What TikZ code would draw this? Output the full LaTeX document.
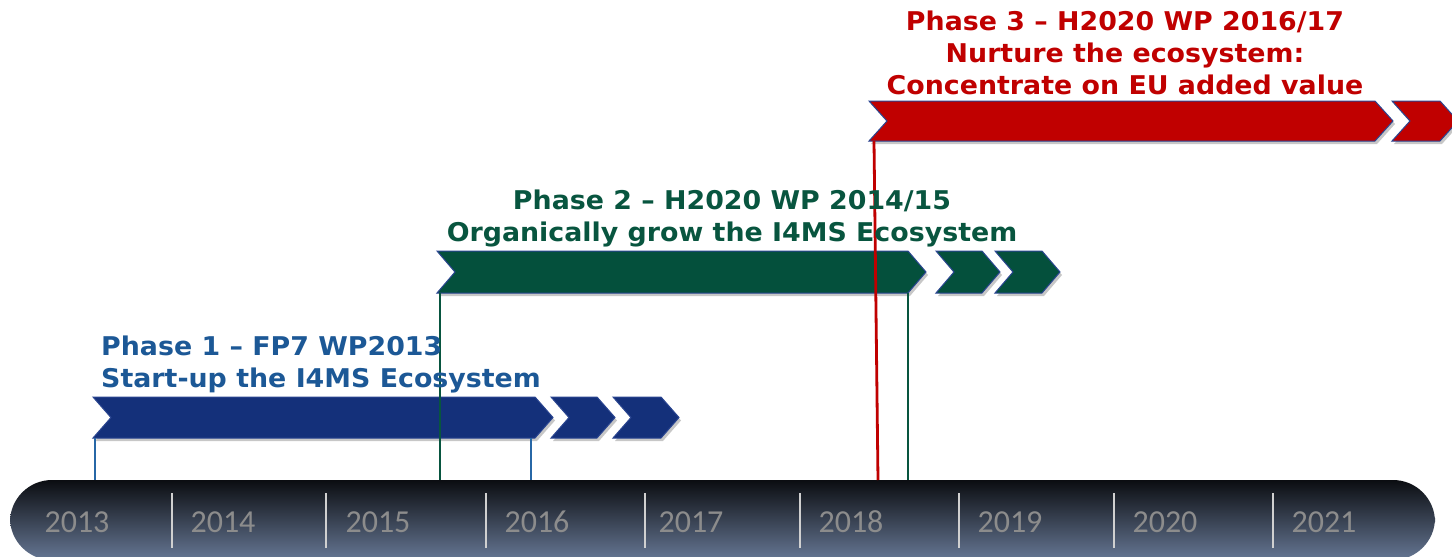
\documentclass[tikz,border=0pt]{standalone}
\usepackage{fontspec}
\setmainfont{DejaVu Sans}
\newfontfamily\labfont{DejaVu Sans}[FakeStretch=1.04]
\newfontfamily\yearfont{Carlito}
\usetikzlibrary{shadows}
\definecolor{pblue}{HTML}{14307A}
\definecolor{tblue}{HTML}{1C5896}
\definecolor{lblue}{HTML}{2767A6}
\definecolor{pgreen}{HTML}{04503C}
\definecolor{tgreen}{HTML}{08553F}
\definecolor{pred}{HTML}{C00000}
\definecolor{edgeblue}{HTML}{2A4591}
\definecolor{bartop}{HTML}{0B0D11}
\definecolor{barmid}{HTML}{3A4557}
\definecolor{barbot}{HTML}{667794}
\definecolor{sepcol}{HTML}{D0D0D0}
\definecolor{yeartxt}{HTML}{8C8C8C}
\tikzset{
  chevshape/.style={draw=edgeblue, line width=1pt, line join=miter,
    drop shadow={shadow xshift=2pt, shadow yshift=-3pt, opacity=0.22, fill=black}},
  phasetxt/.style={font=\labfont\bfseries\fontsize{25.8}{28}\selectfont, inner sep=0pt, anchor=base},
  yr/.style={font=\yearfont\fontsize{32}{36}\selectfont, text=yeartxt, anchor=base, inner sep=0pt},
  sepline/.style={draw=sepcol, line width=1.5pt},
}
\newcommand\chevpath[5]{%
  \path[chevshape, fill=#5] (#1,#3) -- ({#2-18},#3) -- (#2,{(#3+#4)/2}) -- ({#2-18},#4)
    -- (#1,#4) -- ({#1+18},{(#3+#4)/2}) -- cycle;}
\begin{document}
\begin{tikzpicture}[x=1pt,y=-1pt]
\useasboundingbox (0,0) rectangle (1452,557);
\clip (0,0) rectangle (1452,557);
\fill[white] (0,0) rectangle (1452,557);
% timeline bar
\shade[top color=bartop, middle color=barmid, bottom color=barbot, rounded corners=42pt]
  (10,480) rectangle (1435,560);
\foreach \x in {172,326,486,645,800,959,1114,1273}
  \draw[sepline] (\x,493) -- (\x,548);
\node[yr] (y13) at (77,532) {2013};
\node[yr] (y14) at (223,532) {2014};
\node[yr] (y15) at (378,532) {2015};
\node[yr] (y16) at (537,532) {2016};
\node[yr] (y17) at (691,532) {2017};
\node[yr] (y18) at (851,532) {2018};
\node[yr] (y19) at (1010,532) {2019};
\node[yr] (y20) at (1165,532) {2020};
\node[yr] (y21) at (1324,532) {2021};
% phase 1
\chevpath{93}{553}{397}{438}{pblue}
\chevpath{551}{615}{397}{438}{pblue}
\chevpath{613}{679}{397}{438}{pblue}
% phase 2
\chevpath{437}{926}{251}{293}{pgreen}
\chevpath{936}{1000}{251}{293}{pgreen}
\chevpath{995}{1060}{251}{293}{pgreen}
% phase 3
\chevpath{869}{1393}{101}{141}{pred}
\chevpath{1392}{1458}{101}{141}{pred}
% connector coordinates
\coordinate (a1) at (95,438);  \coordinate (b1) at (95,480);
\coordinate (a2) at (531,438); \coordinate (b2) at (531,480);
\coordinate (c1) at (440,293); \coordinate (d1) at (440,480);
\coordinate (c2) at (908,293); \coordinate (d2) at (908,480);
\coordinate (e1) at (874,141); \coordinate (f1) at (878,480);
\draw[lblue, line width=2.4pt] (a1) -- (b1);
\draw[lblue, line width=2.4pt] (a2) -- (b2);
\draw[tgreen, line width=2.8pt] (c1) -- (d1);
\draw[tgreen, line width=2.8pt] (c2) -- (d2);
\draw[pred, line width=2.8pt] (e1) -- (f1);
% texts
\node[phasetxt, anchor=base west, text=tblue] (t1a) at (101,355) {Phase 1 – FP7 WP2013};
\node[phasetxt, anchor=base west, text=tblue] (t1b) at (101,387) {Start-up the I4MS Ecosystem};
\node[phasetxt, text=tgreen] (t2a) at (732,209) {Phase 2 – H2020 WP 2014/15};
\node[phasetxt, text=tgreen] (t2b) at (732,241) {Organically grow the I4MS Ecosystem};
\node[phasetxt, text=pred] (t3a) at (1125,30) {Phase 3 – H2020 WP 2016/17};
\node[phasetxt, text=pred] (t3b) at (1125,62) {Nurture the ecosystem:};
\node[phasetxt, text=pred] (t3c) at (1125,94) {Concentrate on EU added value};
\end{tikzpicture}
\end{document}
